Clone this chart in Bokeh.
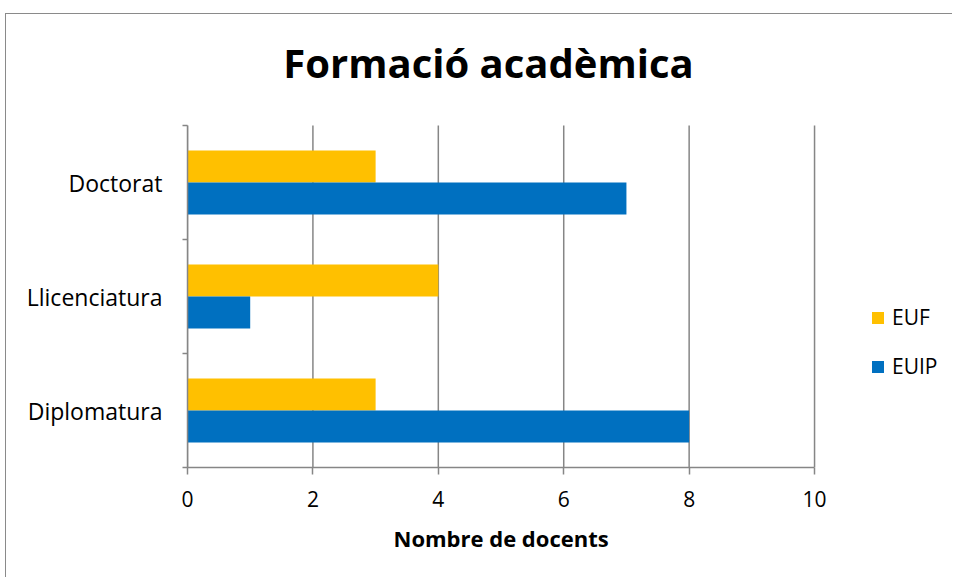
from bokeh.plotting import figure
from bokeh.models import (ColumnDataSource, FixedTicker, Legend, LegendItem, Range1d,
                          Title, Label)
from bokeh.transform import dodge
from bokeh.embed import file_html
from bokeh.resources import INLINE

categories = ["Diplomatura", "Llicenciatura", "Doctorat"]
euf = [3, 4, 3]
euip = [8, 1, 7]
x_ticks = [0, 2, 4, 6, 8, 10]
title_text = "Formació acadèmica"
x_label = "Nombre de docents"

FONT = "Open Sans"
GRAY = "#868686"
YELLOW = "#FFC000"
BLUE = "#0070C0"

n = len(categories)
pos = [i + 0.5 for i in range(n)]
src = ColumnDataSource(dict(y=pos, cat=categories, euf=euf, euip=euip))

# frame extends right (legend) and up (title); axes bounded to the data area
p = figure(width=947, height=564, output_backend="svg", toolbar_location=None,
           title=None,
           x_range=Range1d(0, 12.2), y_range=Range1d(0, 3.974),
           min_border_left=181, min_border_right=1,
           min_border_top=0, min_border_bottom=111)
p.outline_line_color = None
p.background_fill_color = "white"
p.border_fill_color = "white"
p.styles = {"margin-left": "5px", "margin-top": "13px",
            "border-left": "1px solid #8a8a8a", "border-top": "1px solid #8a8a8a"}

# vertical gridlines over the data area only
p.segment(x0=x_ticks, y0=[0] * len(x_ticks), x1=x_ticks, y1=[n] * len(x_ticks),
          line_color=GRAY, line_width=1.5)

bar_h = 0.281
r1 = p.hbar(y=dodge("y", 0.1405, range=p.y_range), right="euf", left=0, height=bar_h,
            source=src, fill_color=YELLOW, line_color=None)
r2 = p.hbar(y=dodge("y", -0.1405, range=p.y_range), right="euip", left=0, height=bar_h,
            source=src, fill_color=BLUE, line_color=None)

# Title
p.add_layout(Label(x=301, y=405, x_units="screen", y_units="screen",
                   text=title_text, text_align="center", text_baseline="alphabetic",
                   text_font=FONT, text_font_style="bold", text_font_size="40px",
                   text_color="black"))

# X axis
xa = p.xaxis[0]
xa.bounds = (x_ticks[0], x_ticks[-1])
xa.ticker = FixedTicker(ticks=x_ticks)
xa.axis_line_color = GRAY
xa.axis_line_width = 1.5
xa.major_tick_line_color = GRAY
xa.major_tick_line_width = 1.5
xa.major_tick_out = 7
xa.major_tick_in = 0
xa.minor_tick_line_color = None
xa.major_label_text_font = FONT
xa.major_label_text_font_size = "21px"
xa.major_label_text_color = "black"
xa.major_label_standoff = 16

# X axis title (centered under the 0-10 span)
xt = Title(text=x_label, align="left", offset=206, vertical_align="top", standoff=26,
           text_font=FONT, text_font_style="bold", text_font_size="22px",
           text_color="black")
p.add_layout(xt, "below")

# Y axis
ya = p.yaxis[0]
ya.bounds = (0, n)
ya.ticker = FixedTicker(ticks=pos, minor_ticks=list(range(n + 1)))
ya.major_label_overrides = {v: c for v, c in zip(pos, categories)}
ya.axis_line_color = GRAY
ya.axis_line_width = 1.5
ya.major_tick_line_color = None
ya.major_tick_out = 0
ya.major_tick_in = 0
ya.minor_tick_line_color = GRAY
ya.minor_tick_line_width = 1.5
ya.minor_tick_out = 5
ya.minor_tick_in = 0
ya.major_label_text_font = FONT
ya.major_label_text_font_size = "23px"
ya.major_label_text_color = "black"
ya.major_label_standoff = 20

p.xgrid.grid_line_color = None
p.ygrid.grid_line_color = None

legend = Legend(items=[LegendItem(label="EUF", renderers=[r1]),
                       LegendItem(label="EUIP", renderers=[r2])],
                location=(683, 87), orientation="vertical",
                glyph_width=15, glyph_height=15, label_standoff=7, spacing=21,
                padding=0, margin=0, border_line_color=None,
                background_fill_alpha=0,
                label_text_font=FONT, label_text_font_size="21px",
                label_text_color="black")
p.add_layout(legend, "center")

open("out.html", "w").write(file_html(p, INLINE))
